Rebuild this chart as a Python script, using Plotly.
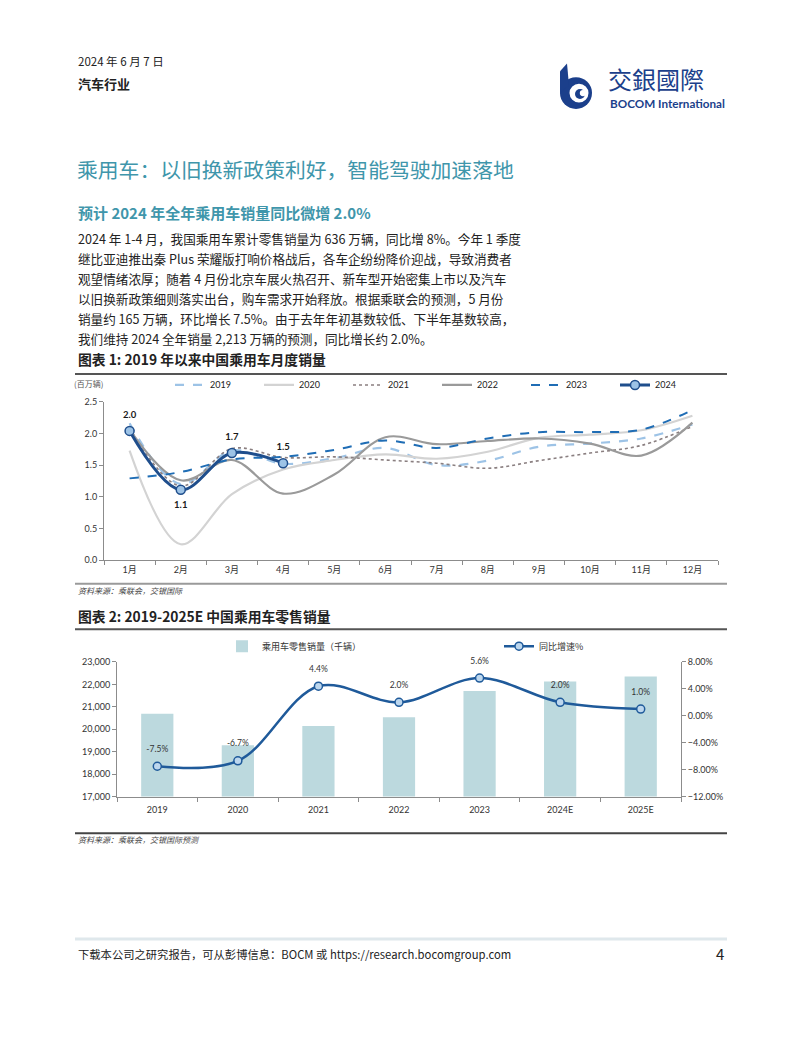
import plotly.graph_objects as go

W, H = 802, 1037
def px(x): return x / W
def py(y): return 1 - y / H

FONT = "Lato, 'Noto Sans CJK SC', sans-serif"
CJK = "'Noto Sans CJK SC', Lato, sans-serif"
TEAL = "#3F96AB"
NAVY = "#1B3F8B"

# ---------------- Chart 1 data ----------------
months = ['1月', '2月', '3月', '4月', '5月', '6月', '7月', '8月', '9月', '10月', '11月', '12月']
s2019 = [2.16, 1.20, 1.73, 1.52, 1.61, 1.77, 1.50, 1.57, 1.79, 1.84, 1.92, 2.14]
s2020 = [1.73, 0.25, 1.04, 1.43, 1.58, 1.67, 1.60, 1.71, 1.93, 1.98, 2.05, 2.28]
s2021 = [2.09, 1.17, 1.76, 1.62, 1.63, 1.58, 1.53, 1.45, 1.57, 1.69, 1.81, 2.11]
s2022 = [2.06, 1.26, 1.58, 1.05, 1.35, 1.94, 1.83, 1.88, 1.92, 1.84, 1.65, 2.17]
s2023 = [1.29, 1.39, 1.59, 1.63, 1.74, 1.89, 1.77, 1.92, 2.02, 2.02, 2.06, 2.37]
s2024 = [2.04, 1.11, 1.69, 1.53]
label_pos_2024 = ['top center', 'bottom center', 'top center', 'top center']

# ---------------- Chart 2 data ----------------
years = ['2019', '2020', '2021', '2022', '2023', '2024E', '2025E']
retail = [20690, 19290, 20140, 20540, 21700, 22130, 22350]
yoy = [-7.5, -6.7, 4.4, 2.0, 5.6, 2.0, 1.0]

fig = go.Figure()

series = [
    ('2019', s2019, dict(color='#9DC3E6', width=2.2, dash='dash')),
    ('2020', s2020, dict(color='#D3D3D3', width=2.2, dash='solid')),
    ('2021', s2021, dict(color='#8A7F80', width=1.6, dash='dot')),
    ('2022', s2022, dict(color='#9A9A9A', width=2.2, dash='solid')),
    ('2023', s2023, dict(color='#1F6DB5', width=2.0, dash='dash')),
]
for name, vals, ln in series:
    fig.add_trace(go.Scatter(
        x=months[:len(vals)], y=vals, name=name, mode='lines',
        line=dict(shape='spline', smoothing=1.0, **ln),
        xaxis='x', yaxis='y', legend='legend', cliponaxis=False))

fig.add_trace(go.Scatter(
    x=months[:len(s2024)], y=s2024, name='2024', mode='lines+markers',
    line=dict(shape='spline', smoothing=1.0, color='#1F4E8C', width=3),
    marker=dict(size=9, color='#9DC3E6', line=dict(color='#1F4E8C', width=1.5)),
    xaxis='x', yaxis='y', legend='legend', cliponaxis=False))

fig.add_trace(go.Scatter(
    x=months[:len(s2024)], y=s2024, mode='markers+text', showlegend=False,
    text=[f"{v:.1f}" for v in s2024], textposition=label_pos_2024,
    marker=dict(size=16, opacity=0),
    textfont=dict(family=FONT, size=9.5, color='#1a1a1a', weight='bold'),
    xaxis='x', yaxis='y', cliponaxis=False, hoverinfo='skip'))

# Chart 2
fig.add_trace(go.Bar(
    x=years, y=retail, name='乘用车零售销量（千辆）', width=0.4,
    marker=dict(color='#BCD9DE', line=dict(width=0)),
    xaxis='x2', yaxis='y2', legend='legend2'))

fig.add_trace(go.Scatter(
    x=years, y=yoy, name='同比增速%', mode='lines+markers',
    line=dict(shape='spline', smoothing=1.0, color='#1F5A9A', width=2.5),
    marker=dict(size=8, color='#BDD7EE', line=dict(color='#1F5A9A', width=1.5)),
    xaxis='x2', yaxis='y3', legend='legend2', cliponaxis=False))

fig.add_trace(go.Scatter(
    x=years, y=yoy, mode='markers+text', showlegend=False,
    text=[f"{v:.1f}%" for v in yoy], textposition='top center',
    marker=dict(size=18, opacity=0),
    textfont=dict(family=FONT, size=8.5, color='#333'),
    xaxis='x2', yaxis='y3', cliponaxis=False, hoverinfo='skip'))

axis_common = dict(showgrid=False, zeroline=False, showline=True, linecolor='#8C8C8C',
                   linewidth=1, ticks='outside', tickcolor='#8C8C8C', ticklen=4,
                   tickfont=dict(family=FONT, size=9, color='#333'))

fig.update_layout(
    width=W, height=H, margin=dict(l=0, r=0, t=0, b=0),
    paper_bgcolor='white', plot_bgcolor='white', showlegend=True,
    font=dict(family=FONT, color='#222'),
    xaxis=dict(domain=[px(104), px(718)], anchor='y', type='category',
               range=[-0.5, 11.5], tickson='boundaries', ticklabelstandoff=1,
               **axis_common),
    yaxis=dict(domain=[py(560), py(400)], anchor='x', range=[0, 2.5], dtick=0.5,
               tickformat='.1f', **axis_common),
    xaxis2=dict(domain=[px(117), px(681)], anchor='y2', type='category',
                range=[-0.5, 6.5], tickson='boundaries', ticklabelstandoff=5,
                **axis_common),
    yaxis2=dict(domain=[py(799), py(663)], anchor='x2', range=[17000, 23000],
                dtick=1000, tickformat=',d', **axis_common),
    yaxis3=dict(overlaying='y2', side='right', anchor='x2', range=[-12, 8], dtick=4,
                tickformat='.2f', ticksuffix='%', **axis_common),
    legend=dict(orientation='h', x=px(170), y=py(383), xanchor='left', yanchor='middle',
                entrywidth=44, entrywidthmode='pixels', itemwidth=30,
                font=dict(family=FONT, size=9, color='#222'), bgcolor='rgba(0,0,0,0)',
                tracegroupgap=0),
    legend2=dict(orientation='h', x=px(222), y=py(647), xanchor='left', yanchor='middle',
                 entrywidth=232, entrywidthmode='pixels', itemwidth=30,
                 font=dict(family=CJK, size=9, color='#333'), bgcolor='rgba(0,0,0,0)'),
)

def ann(text, x, y, size, color='#222', xanchor='left', family=CJK):
    fig.add_annotation(text=text, x=px(x), y=py(y), xref='paper', yref='paper',
                       xanchor=xanchor, yanchor='middle', showarrow=False,
                       font=dict(family=family, size=size, color=color))

ann("2024 年 6 月 7 日", 76, 56, 11.5)
ann("<b>汽车行业</b>", 76, 78, 13)
ann("乘用车：以旧换新政策利好，智能驾驶加速落地", 75, 165, 20.8, TEAL)
ann("<b>预计 2024 年全年乘用车销量同比微增 2.0%</b>", 76, 209, 15, TEAL)

para = [
    "2024 年 1-4 月，我国乘用车累计零售销量为 636 万辆，同比增 8%。今年 1 季度",
    "继比亚迪推出秦 Plus 荣耀版打响价格战后，各车企纷纷降价迎战，导致消费者",
    "观望情绪浓厚；随着 4 月份北京车展火热召开、新车型开始密集上市以及汽车",
    "以旧换新政策细则落实出台，购车需求开始释放。根据乘联会的预测，5 月份",
    "销量约 165 万辆，环比增长 7.5%。由于去年年初基数较低、下半年基数较高，",
    "我们维持 2024 全年销量 2,213 万辆的预测，同比增长约 2.0%。",
]
for i, line in enumerate(para):
    ann(line, 76, 235 + i * 20.3, 12.6, '#222')

ann("<b>图表 1: 2019 年以来中国乘用车月度销量</b>", 76, 357, 13.8)
ann("(百万辆)", 88, 382, 8, '#555', xanchor='center')
ann("<i>资料来源：乘联会，交银国际</i>", 76, 591, 8, '#444')
ann("<b>图表 2: 2019-2025E 中国乘用车零售销量</b>", 76, 617, 13.8)
ann("<i>资料来源：乘联会，交银国际预测</i>", 76, 842, 8, '#444')
ann("下载本公司之研究报告，可从彭博信息：BOCM 或 https://research.bocomgroup.com", 76, 958, 11.3, '#222')
ann("4", 726, 958, 15, '#222', xanchor='right')

# logo text
fig.add_annotation(text="交銀國際", x=px(606), y=py(73), xref='paper', yref='paper',
                   xanchor='left', yanchor='middle', showarrow=False,
                   font=dict(family="'Noto Sans CJK TC', sans-serif", size=24, color=NAVY))
fig.add_annotation(text="<b>BOCOM International</b>", x=px(608), y=py(98), xref='paper', yref='paper',
                   xanchor='left', yanchor='middle', showarrow=False,
                   font=dict(family="Lato, sans-serif", size=11.7, color=NAVY))

def hline(y, color, width, x0=75, x1=727):
    fig.add_shape(type='line', xref='paper', yref='paper', x0=px(x0), x1=px(x1),
                  y0=py(y), y1=py(y), line=dict(color=color, width=width))

hline(372, '#555', 2)
hline(584, '#9a9a9a', 2)
hline(630, '#555', 2)
hline(836, '#444', 2)
hline(943, '#DFE8EC', 3)

# logo shapes
def circ(cx, cy, r, color):
    fig.add_shape(type='circle', xref='paper', yref='paper',
                  x0=px(cx - r), x1=px(cx + r), y0=py(cy + r), y1=py(cy - r),
                  fillcolor=color, line=dict(width=0))

circ(576, 88, 16, NAVY)
circ(579, 88, 9.5, 'white')
circ(580, 89, 5, NAVY)
circ(583, 88, 3.2, 'white')
fig.add_shape(type='path', xref='paper', yref='paper',
              path=f"M {px(560)} {py(88)} L {px(560)} {py(66)} L {px(567)} {py(58)} L {px(569)} {py(80)} Z",
              fillcolor=NAVY, line=dict(width=0))

fig.write_html("out.html")
